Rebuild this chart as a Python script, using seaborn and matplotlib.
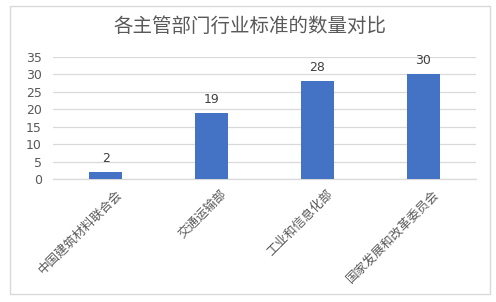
import matplotlib
matplotlib.use("Agg")
import matplotlib.pyplot as plt
import matplotlib.transforms as mtrans
import seaborn as sns
import pandas as pd
from matplotlib.patches import Rectangle

categories = ["中国建筑材料联合会", "交通运输部", "工业和信息化部", "国家发展和改革委员会"]
values = [2, 19, 28, 30]
yticks = [0, 5, 10, 15, 20, 25, 30, 35]
title = "各主管部门行业标准的数量对比"

sns.set_theme(style="white")
plt.rcParams['font.family'] = ['Noto Sans CJK SC', 'DejaVu Sans']

W, H = 496, 302
fig = plt.figure(figsize=(W / 100, H / 100), dpi=100)
ax = fig.add_axes([53 / W, 1 - 179 / H, (476 - 53) / W, (179 - 57) / H])

df = pd.DataFrame({"cat": categories, "val": values})
sns.barplot(data=df, x="cat", y="val", color="#4472C4", width=0.31, ax=ax,
            saturation=1, zorder=3, linewidth=0)

ax.set_ylim(0, 35)
ax.set_xlim(-0.5, 3.5)
ax.set_yticks(yticks)
ax.set_yticklabels([str(t) for t in yticks], fontsize=9, color="#595959",
                   family=['DejaVu Sans'])
ax.yaxis.grid(True, color="#d9d9d9", linewidth=0.9, zorder=0)
ax.set_axisbelow(True)
for s in ["top", "right", "left"]:
    ax.spines[s].set_visible(False)
ax.spines["bottom"].set_color("#d9d9d9")
ax.spines["bottom"].set_linewidth(0.9)
ax.tick_params(axis="y", length=0, pad=8)
ax.tick_params(axis="x", length=0, pad=4)
ax.set_xlabel("")
ax.set_ylabel("")
ax.set_xticks(range(len(categories)))
ax.set_xticklabels(categories, rotation=45, ha="right", rotation_mode="anchor",
                   fontsize=9, color="#595959")
offset = mtrans.ScaledTranslation(9 / 100, -3 / 100, fig.dpi_scale_trans)
for lbl in ax.get_xticklabels():
    lbl.set_transform(lbl.get_transform() + offset)

for i, v in enumerate(values):
    ax.annotate(str(v), (i, v), xytext=(0, 5), textcoords="offset points",
                ha="center", va="bottom", fontsize=9, color="#404040",
                family=['DejaVu Sans'])

fig.text(250 / W, 1 - 26 / H, title, ha="center", va="center", fontsize=14,
         color="#595959")

fig.patches.append(Rectangle((10 / W, 1 - 294 / H), 480 / W, 288 / H,
                             transform=fig.transFigure, fill=False,
                             edgecolor="#d9d9d9", linewidth=1))

fig.savefig("out.png", dpi=100)
